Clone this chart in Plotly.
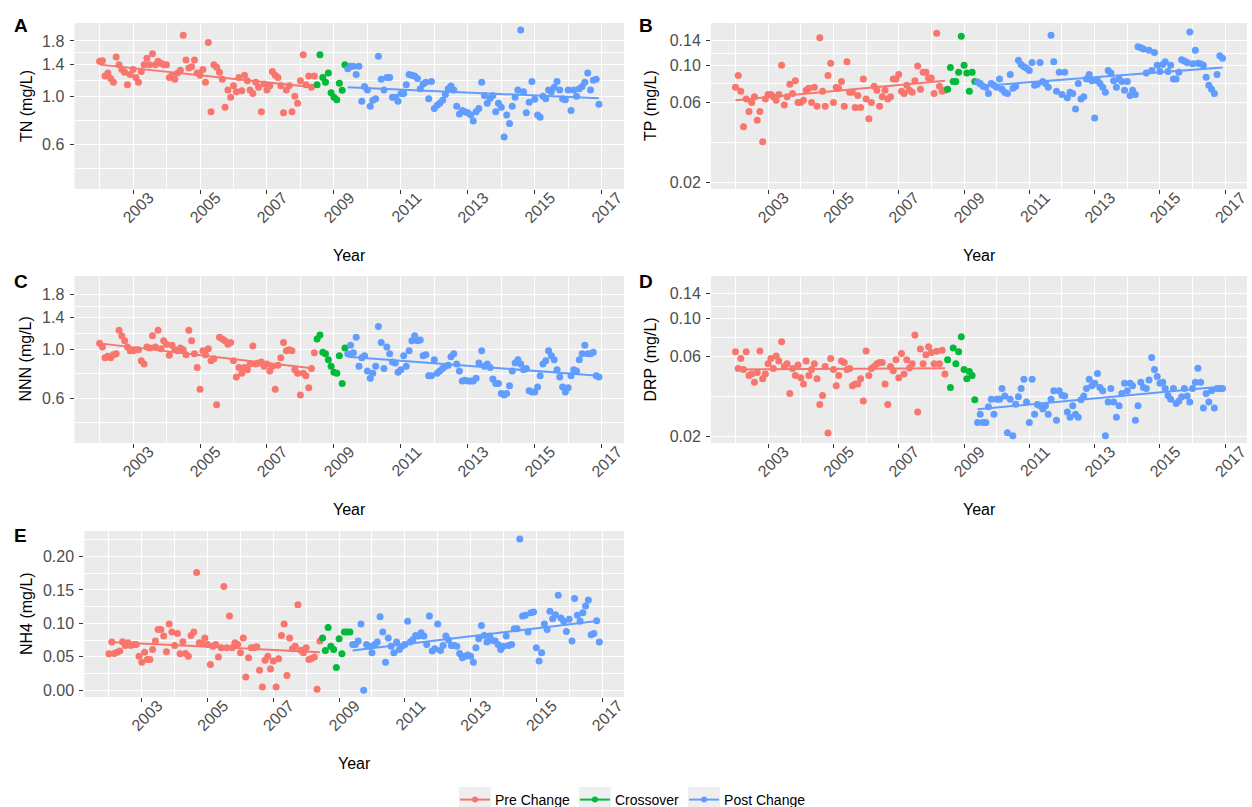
import plotly.graph_objects as go
import pandas as pd

# ---------------- data ----------------
pre_start, cross_start, post_start = "2002-01-01", "2008-07-01", "2009-06-01"
groups = ["Pre Change", "Crossover", "Post Change"]
colors = ["#F8766D", "#00BA38", "#619CFF"]
year_ticks = [2003, 2005, 2007, 2009, 2011, 2013, 2015, 2017]
year_minor = [2002, 2004, 2006, 2008, 2010, 2012, 2014, 2016]

tn_pre = [1.45, 1.46, 1.24, 1.28, 1.21, 1.16, 1.52, 1.40, 1.33, 1.29, 1.13, 1.26,
          1.33, 1.22, 1.16, 1.30, 1.40, 1.50, 1.40, 1.57, 1.40, 1.45, 1.42, 1.40,
          1.40, 1.22, 1.25, 1.20, 1.28, 1.32, 1.91, 1.47, 1.35, 1.37, 1.47, 1.28,
          1.25, 1.33, 1.16, 1.77, 0.85, 1.40, 1.36, 1.29, 1.20, 0.89, 1.07, 0.99,
          1.12, 1.05, 1.22, 1.06, 1.25, 1.18, 1.07, 1.03, 1.16, 1.10, 0.85, 1.14,
          1.07, 1.12, 1.30, 1.25, 1.22, 1.12, 0.84, 1.07, 1.12, 0.85, 1.00, 0.93,
          1.18, 1.555, 1.13, 1.24, 1.10, 1.24]
tn_cross = [1.13, 1.555, 1.22, 1.16, 1.28, 1.04, 0.99, 0.965, 1.15, 1.066, 1.40]
tn_post = [1.34, 1.375, 1.375, 1.26, 1.375, 0.95, 1.11, 1.07, 0.90, 0.96,
           0.976, 1.53, 1.20, 1.07, 1.22, 1.22, 0.99, 0.99, 0.95, 1.03,
           1.03, 1.13, 1.26, 1.25, 1.24, 1.21, 1.085, 1.14, 1.16, 0.976,
           1.17, 0.88, 0.91, 0.93, 0.96, 1.02, 1.085, 1.115, 1.07, 0.90,
           0.83, 0.86, 0.85, 0.84, 0.82, 0.77, 0.85, 0.88, 1.16, 1.01,
           0.93, 0.98, 1.01, 0.85, 0.93, 0.89, 0.65, 0.82, 0.75, 0.90,
           0.99, 1.07, 2.02, 1.05, 0.84, 0.94, 1.17, 0.97, 0.82, 0.80,
           1.00, 0.976, 1.07, 1.05, 1.10, 1.17, 1.07, 0.976, 0.965, 1.07,
           0.86, 1.07, 1.00, 1.085, 1.11, 1.16, 1.28, 1.07, 1.185, 1.20, 0.92]
tn_pre_fit = [1.40, 1.10]
tn_post_fit = [1.10, 0.98]

tp_pre = [0.074, 0.087, 0.070, 0.043, 0.063, 0.053, 0.060, 0.065, 0.047, 0.053,
          0.035, 0.063, 0.067, 0.067, 0.065, 0.062, 0.067, 0.100, 0.058, 0.065,
          0.077, 0.068, 0.081, 0.060, 0.060, 0.062, 0.071, 0.073, 0.060, 0.074,
          0.057, 0.146, 0.070, 0.057, 0.087, 0.103, 0.060, 0.074, 0.073, 0.080,
          0.057, 0.105, 0.069, 0.069, 0.056, 0.066, 0.056, 0.083, 0.063, 0.048,
          0.060, 0.075, 0.071, 0.057, 0.065, 0.071, 0.063, 0.065, 0.083, 0.083,
          0.088, 0.070, 0.068, 0.076, 0.071, 0.069, 0.081, 0.099, 0.072, 0.091,
          0.091, 0.084, 0.084, 0.068, 0.155, 0.075, 0.070, 0.071]
tp_cross = [0.072, 0.097, 0.080, 0.080, 0.091, 0.149, 0.100, 0.090, 0.070, 0.091, 0.080]
tp_post = [0.0796, 0.078, 0.075, 0.074, 0.068, 0.078, 0.076, 0.074, 0.083, 0.072,
           0.069, 0.068, 0.088, 0.073, 0.075, 0.107, 0.101, 0.098, 0.096, 0.093,
           0.104, 0.076, 0.077, 0.104, 0.080, 0.078, 0.074, 0.151, 0.105, 0.070,
           0.091, 0.067, 0.091, 0.064, 0.069, 0.068, 0.055, 0.078, 0.063, 0.065,
           0.083, 0.088, 0.081, 0.0485, 0.081, 0.078, 0.074, 0.069, 0.093, 0.090,
           0.081, 0.074, 0.083, 0.080, 0.071, 0.080, 0.066, 0.071, 0.067, 0.129,
           0.127, 0.125, 0.090, 0.123, 0.093, 0.119, 0.100, 0.092, 0.101, 0.105,
           0.092, 0.100, 0.083, 0.083, 0.091, 0.108, 0.106, 0.104, 0.158, 0.102,
           0.123, 0.103, 0.102, 0.100, 0.085, 0.076, 0.072, 0.068, 0.088, 0.114, 0.110]
tp_pre_fit = [0.062, 0.081]
tp_post_fit = [0.075, 0.097]

nnn_pre = [1.07, 1.03, 0.92, 0.935, 0.92, 0.95, 0.96, 1.23, 1.156, 1.10,
           1.03, 0.99, 0.99, 1.00, 1.00, 0.89, 0.86, 1.03, 1.02, 1.16,
           1.03, 1.23, 1.01, 1.10, 1.06, 0.945, 1.05, 1.00, 0.99, 1.02,
           1.00, 0.95, 1.23, 1.10, 0.96, 0.83, 0.66, 0.99, 0.95, 1.01,
           0.89, 0.91, 0.56, 1.14, 1.12, 1.10, 1.06, 1.08, 0.89, 0.75,
           0.83, 0.78, 0.83, 0.81, 0.86, 1.04, 0.86, 0.87, 0.88, 0.84,
           0.86, 0.80, 0.84, 0.66, 0.85, 0.92, 1.08, 0.99, 1.00, 0.99,
           0.81, 0.78, 0.62, 0.78, 0.76, 0.67, 0.82, 0.97]
nnn_cross = [1.12, 1.17, 0.975, 0.96, 0.90, 0.84, 0.79, 0.78, 0.94, 0.70, 1.02]
nnn_post = [0.96, 1.05, 0.97, 1.14, 0.84, 0.92, 0.94, 0.80, 0.74, 0.78,
            0.84, 1.28, 1.08, 0.82, 1.03, 0.96, 0.88, 0.87, 0.79, 0.81,
            0.94, 0.84, 0.99, 1.10, 1.16, 1.10, 1.11, 0.94, 0.95, 0.76,
            0.76, 0.90, 0.78, 0.80, 0.82, 0.84, 0.85, 0.93, 0.96, 0.86,
            0.80, 0.72, 0.725, 0.72, 0.72, 0.72, 0.74, 0.87, 0.99, 0.84,
            0.86, 0.83, 0.735, 0.70, 0.70, 0.63, 0.62, 0.63, 0.685, 0.80,
            0.87, 0.90, 0.86, 0.81, 0.82, 0.65, 0.64, 0.64, 0.675, 0.76,
            0.86, 0.89, 0.99, 0.94, 0.90, 0.81, 0.75, 0.675, 0.64, 0.67,
            0.76, 0.81, 0.80, 0.90, 0.96, 1.05, 0.96, 0.96, 0.975, 0.76, 0.75]
nnn_pre_fit = [1.07, 0.82]
nnn_post_fit = [0.93, 0.76]

drp_pre = [0.0635, 0.0506, 0.058, 0.050, 0.0635, 0.046, 0.047, 0.042, 0.048, 0.0643,
           0.044, 0.047, 0.054, 0.058, 0.0506, 0.060, 0.056, 0.073, 0.052, 0.054,
           0.036, 0.0506, 0.046, 0.053, 0.0446, 0.041, 0.056, 0.046, 0.050, 0.054,
           0.044, 0.031, 0.035, 0.052, 0.021, 0.058, 0.050, 0.040, 0.046, 0.056,
           0.055, 0.050, 0.0506, 0.040, 0.041, 0.041, 0.044, 0.0325, 0.0643, 0.046,
           0.0506, 0.052, 0.054, 0.055, 0.055, 0.041, 0.031, 0.052, 0.049, 0.057,
           0.0446, 0.062, 0.047, 0.057, 0.051, 0.054, 0.080, 0.028, 0.066, 0.054,
           0.061, 0.068, 0.063, 0.054, 0.064, 0.054, 0.065, 0.047]
drp_cross = [0.057, 0.039, 0.067, 0.054, 0.0635, 0.078, 0.050, 0.044, 0.0485, 0.046, 0.033]
drp_post = [0.0242, 0.0271, 0.0242, 0.0242, 0.030, 0.0333, 0.0271, 0.0333, 0.0333, 0.0385,
            0.0348, 0.0211, 0.0333, 0.0202, 0.0311, 0.0344, 0.0385, 0.0437, 0.032, 0.0242,
            0.0437, 0.0271, 0.031, 0.0304, 0.0291, 0.0304, 0.0271, 0.0333, 0.0373, 0.025,
            0.0373, 0.0351, 0.0348, 0.028, 0.026, 0.0304, 0.0271, 0.026, 0.033, 0.0348,
            0.0385, 0.0437, 0.040, 0.0414, 0.0472, 0.039, 0.0373, 0.0202, 0.032, 0.0385,
            0.032, 0.026, 0.0304, 0.036, 0.0414, 0.0373, 0.0414, 0.040, 0.025, 0.0304,
            0.042, 0.039, 0.0385, 0.0433, 0.0588, 0.050, 0.0454, 0.0414, 0.042, 0.0385,
            0.035, 0.0333, 0.0385, 0.0314, 0.0325, 0.0344, 0.0385, 0.0348, 0.032, 0.0385,
            0.042, 0.0508, 0.042, 0.0295, 0.036, 0.032, 0.0373, 0.0295, 0.0385, 0.0385, 0.0385]
drp_pre_fit = [0.050, 0.0508]
drp_post_fit = [0.029, 0.0396]

nh4_pre = [0.0546, 0.072, 0.055, 0.057, 0.0586, 0.0725, 0.067, 0.071, 0.067, 0.0685,
           0.0685, 0.051, 0.042, 0.057, 0.046, 0.046, 0.061, 0.0735, 0.091, 0.091,
           0.081, 0.0576, 0.099, 0.087, 0.067, 0.085, 0.0546, 0.0725, 0.055, 0.051,
           0.082, 0.087, 0.176, 0.071, 0.0695, 0.078, 0.0685, 0.0387, 0.066, 0.0685,
           0.0496, 0.0635, 0.155, 0.0635, 0.111, 0.0635, 0.071, 0.0685, 0.056, 0.078,
           0.0199, 0.0486, 0.0635, 0.0635, 0.065, 0.030, 0.005, 0.045, 0.051, 0.032,
           0.0437, 0.005, 0.047, 0.082, 0.099, 0.022, 0.078, 0.062, 0.066, 0.128,
           0.060, 0.056, 0.0635, 0.046, 0.0476, 0.0496, 0.0015, 0.0735]
nh4_cross = [0.078, 0.0596, 0.094, 0.066, 0.061, 0.034, 0.077, 0.0546, 0.087, 0.087, 0.087]
nh4_post = [0.0685, 0.0685, 0.0735, 0.099, 0.0, 0.0685, 0.066, 0.056, 0.0685, 0.072,
            0.110, 0.087, 0.042, 0.078, 0.066, 0.056, 0.072, 0.061, 0.066, 0.0685,
            0.103, 0.072, 0.076, 0.082, 0.081, 0.086, 0.081, 0.0685, 0.111, 0.0586,
            0.062, 0.099, 0.0596, 0.067, 0.081, 0.075, 0.067, 0.067, 0.066, 0.055,
            0.0486, 0.051, 0.0526, 0.051, 0.042, 0.0635, 0.077, 0.097, 0.082, 0.072,
            0.081, 0.0744, 0.0735, 0.0685, 0.061, 0.066, 0.081, 0.067, 0.0685, 0.092,
            0.092, 0.226, 0.111, 0.112, 0.087, 0.116, 0.117, 0.0635, 0.0437, 0.056,
            0.099, 0.091, 0.118, 0.107, 0.113, 0.142, 0.108, 0.103, 0.088, 0.106,
            0.0735, 0.137, 0.112, 0.103, 0.116, 0.126, 0.135, 0.083, 0.085, 0.104, 0.072]
nh4_pre_fit = [0.072, 0.057]
nh4_post_fit = [0.0596, 0.104]

log_n_ticks = [0.6, 1.0, 1.4, 1.8]
log_n_text = ["0.6", "1.0", "1.4", "1.8"]
log_n_minor = [0.465, 0.775, 1.183, 1.587]
log_p_ticks = [0.02, 0.06, 0.10, 0.14]
log_p_text = ["0.02", "0.06", "0.10", "0.14"]
log_p_minor = [0.0346, 0.0775, 0.1183]
nh4_ticks = [0.0, 0.05, 0.10, 0.15, 0.20]
nh4_text = ["0.00", "0.05", "0.10", "0.15", "0.20"]
nh4_minor = [0.025, 0.075, 0.125, 0.175, 0.225]

# ---------------- layout helpers ----------------
W, H = 1252, 807
FONT = "Liberation Sans, Arial, sans-serif"
TICKCOL = "#4D4D4D"


def fx(p):
    return p / W


def fy(p):
    return 1 - p / H


def months(start, n):
    return pd.date_range(start, periods=n, freq="MS")


def yaxis_cfg(kind):
    base = dict(showgrid=True, gridcolor="white", gridwidth=1.2, zeroline=False,
                showline=False, ticks="outside", ticklen=4, tickcolor="#333333",
                tickwidth=1, tickfont=dict(size=16, color=TICKCOL, family=FONT),
                tickmode="array", ticklabelstandoff=2, ticklabeloverflow="allow")
    if kind == "n":
        base.update(type="log", range=[-0.427, 0.338], tickvals=log_n_ticks,
                    ticktext=log_n_text,
                    minor=dict(tickmode="array", tickvals=log_n_minor, showgrid=True,
                               gridcolor="white", gridwidth=0.6, ticks=""))
    elif kind == "p":
        base.update(type="log", range=[-1.737, -0.748], tickvals=log_p_ticks,
                    ticktext=log_p_text,
                    minor=dict(tickmode="array", tickvals=log_p_minor, showgrid=True,
                               gridcolor="white", gridwidth=0.6, ticks=""))
    else:
        base.update(type="linear", range=[-0.010, 0.238], tickvals=nh4_ticks,
                    ticktext=nh4_text,
                    minor=dict(tickmode="array", tickvals=nh4_minor, showgrid=True,
                               gridcolor="white", gridwidth=0.6, ticks=""))
    return base


def xaxis_cfg():
    return dict(type="date", range=["2001-04-02", "2017-09-01"], tickmode="array",
                tickvals=[f"{y}-01-01" for y in year_ticks],
                ticktext=[str(y) for y in year_ticks], tickangle=-45,
                ticks="outside", ticklen=4, tickcolor="#333333", tickwidth=1,
                tickfont=dict(size=16, color=TICKCOL, family=FONT),
                ticklabelshift=16, ticklabelstandoff=-12, ticklabeloverflow="allow",
                showgrid=True, gridcolor="white", gridwidth=1.2, zeroline=False,
                showline=False,
                minor=dict(tickmode="array", tickvals=[f"{y}-01-01" for y in year_minor],
                           showgrid=True, gridcolor="white", gridwidth=0.6, ticks=""))


panels = [
    dict(letter="A", title="TN (mg/L)", data=(tn_pre, tn_cross, tn_post),
         fits=(tn_pre_fit, tn_post_fit), box=(74.5, 624, 23, 189), kind="n",
         letter_pos=(12, 25), ytitle_x=26, year_y=255),
    dict(letter="B", title="TP (mg/L)", data=(tp_pre, tp_cross, tp_post),
         fits=(tp_pre_fit, tp_post_fit), box=(711, 1247, 23, 189), kind="p",
         letter_pos=(637, 25), ytitle_x=650, year_y=255),
    dict(letter="C", title="NNN (mg/L)", data=(nnn_pre, nnn_cross, nnn_post),
         fits=(nnn_pre_fit, nnn_post_fit), box=(74.5, 624, 276, 443), kind="n",
         letter_pos=(12, 281), ytitle_x=25, year_y=509),
    dict(letter="D", title="DRP (mg/L)", data=(drp_pre, drp_cross, drp_post),
         fits=(drp_pre_fit, drp_post_fit), box=(711, 1247, 276, 443), kind="p",
         letter_pos=(637, 281), ytitle_x=650, year_y=509),
    dict(letter="E", title="NH4 (mg/L)", data=(nh4_pre, nh4_cross, nh4_post),
         fits=(nh4_pre_fit, nh4_post_fit), box=(84.3, 624, 531, 697), kind="l",
         letter_pos=(12, 535), ytitle_x=26, year_y=763),
]

fig = go.Figure()
layout = dict(width=W, height=H, margin=dict(l=0, r=0, t=0, b=0, autoexpand=False),
              paper_bgcolor="white", plot_bgcolor="#EBEBEB",
              font=dict(family=FONT), showlegend=True)
annotations = []
starts = [pre_start, cross_start, post_start]

for i, p in enumerate(panels, start=1):
    xa = "x" if i == 1 else f"x{i}"
    ya = "y" if i == 1 else f"y{i}"
    x0, x1, y0, y1 = p["box"]
    xcfg = xaxis_cfg()
    xcfg.update(domain=[fx(x0), fx(x1)], anchor=ya)
    ycfg = yaxis_cfg(p["kind"])
    ycfg.update(domain=[fy(y1), fy(y0)], anchor=xa)
    layout["xaxis" if i == 1 else f"xaxis{i}"] = xcfg
    layout["yaxis" if i == 1 else f"yaxis{i}"] = ycfg

    date_sets = []
    for g, (vals, start) in enumerate(zip(p["data"], starts)):
        d = months(start, len(vals))
        date_sets.append(d)
        fig.add_trace(go.Scatter(x=d, y=vals, mode="markers", xaxis=xa, yaxis=ya,
                                 marker=dict(color=colors[g], size=7),
                                 showlegend=False, hoverinfo="skip"))
    for fit, d, col in ((p["fits"][0], date_sets[0], colors[0]),
                        (p["fits"][1], date_sets[2], colors[2])):
        fig.add_trace(go.Scatter(x=[d[0], d[-1]], y=fit, mode="lines", xaxis=xa, yaxis=ya,
                                 line=dict(color=col, width=2), showlegend=False,
                                 hoverinfo="skip"))

    lx, ly = p["letter_pos"]
    annotations.append(dict(text=f"<b>{p['letter']}</b>", x=fx(lx), y=fy(ly), xref="paper",
                            yref="paper", xanchor="left", yanchor="middle", showarrow=False,
                            font=dict(size=19, color="black", family=FONT)))
    annotations.append(dict(text=p["title"], x=fx(p["ytitle_x"]), y=fy((y0 + y1) / 2),
                            xref="paper", yref="paper", xanchor="center", yanchor="middle",
                            textangle=-90, showarrow=False,
                            font=dict(size=16, color="black", family=FONT)))
    annotations.append(dict(text="Year", x=fx((x0 + x1) / 2), y=fy(p["year_y"]),
                            xref="paper", yref="paper", xanchor="center", yanchor="middle",
                            showarrow=False, font=dict(size=16, color="black", family=FONT)))

# legend entries
for g in range(3):
    fig.add_trace(go.Scatter(x=[None], y=[None], mode="lines+markers", name=groups[g],
                             line=dict(color=colors[g], width=2),
                             marker=dict(color=colors[g], size=6), showlegend=True))

# light grey key backgrounds behind the legend symbols (ggplot style)
key_centers = [475, 595, 704]
shapes = [dict(type="rect", xref="paper", yref="paper", x0=fx(c - 16), x1=fx(c + 16),
               y0=fy(811), y1=fy(787), fillcolor="#EFEFEF", line=dict(width=0),
               layer="below") for c in key_centers]

layout["annotations"] = annotations
layout["shapes"] = shapes
layout["legend"] = dict(orientation="h", x=fx(633), xanchor="center", y=fy(800),
                        yanchor="middle", font=dict(size=14, color="black", family=FONT),
                        bgcolor="rgba(0,0,0,0)", itemwidth=30, tracegroupgap=0)
fig.update_layout(**layout)
fig.write_html("out.html")
